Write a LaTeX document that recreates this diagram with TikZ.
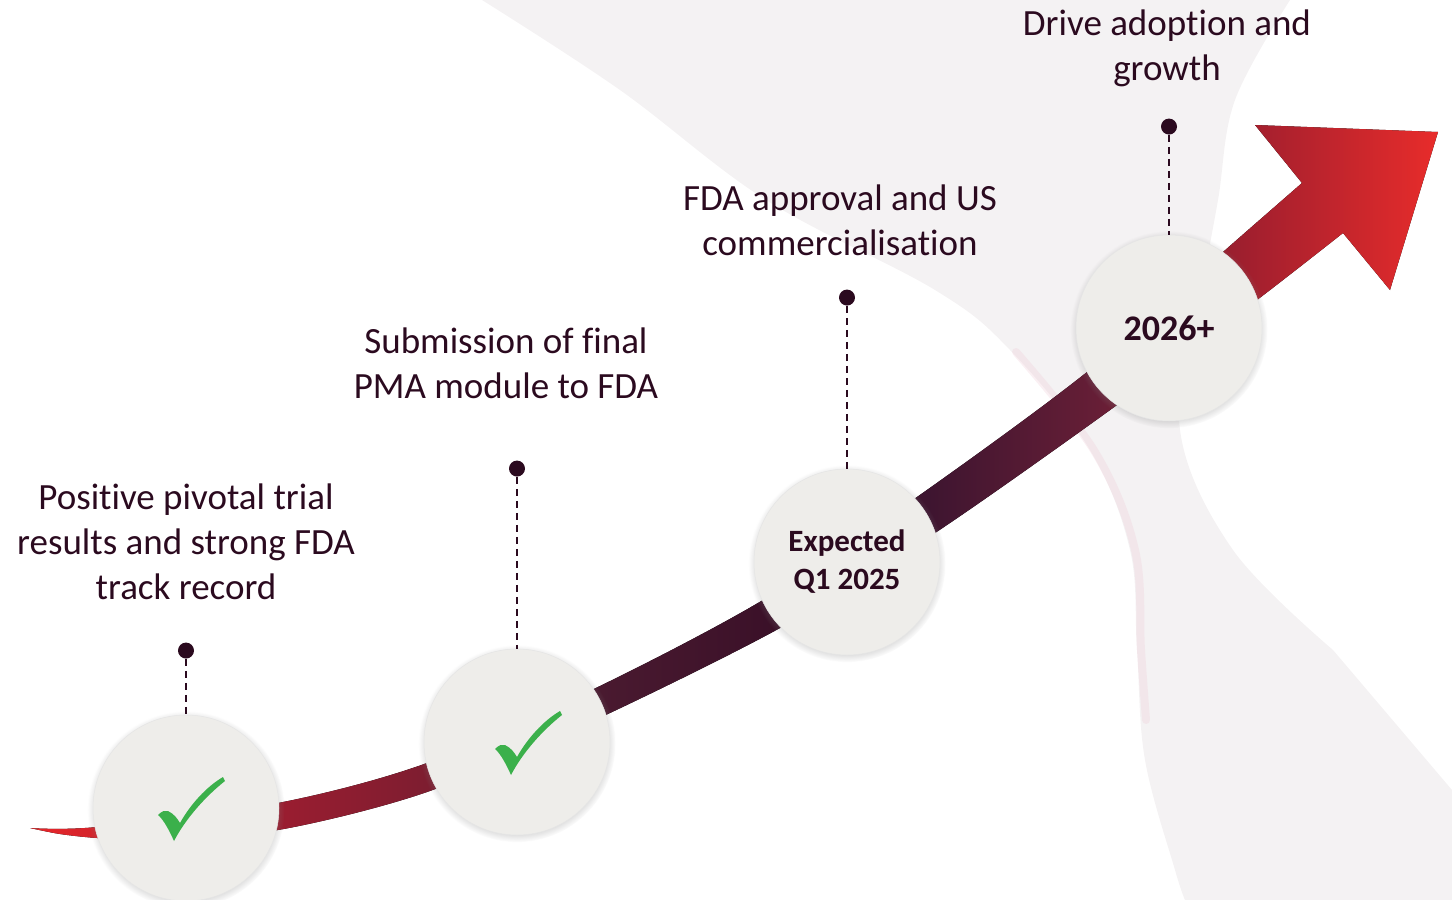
\documentclass[tikz,border=0pt]{standalone}
\usepackage{fontspec}
\setmainfont{Carlito}[Ligatures=NoCommon]
\usetikzlibrary{positioning, shadows}

\definecolor{plum}{HTML}{2B0A1F}
\definecolor{disc}{HTML}{EEEDEA}
\definecolor{okgreen}{HTML}{3BB04B}
\definecolor{haze}{HTML}{F4F2F3}
\definecolor{hazepink}{HTML}{EFCCD7}
\definecolor{bandA}{HTML}{E8262A}
\definecolor{bandB}{HTML}{9A1D30}
\definecolor{bandC}{HTML}{7D1D30}
\definecolor{bandD}{HTML}{4A1A30}
\definecolor{bandE}{HTML}{3A1028}
\definecolor{bandF}{HTML}{3E1530}
\definecolor{bandG}{HTML}{661E36}
\definecolor{bandH}{HTML}{A21F2E}
\definecolor{bandI}{HTML}{E82C2B}

% red -> plum -> red along the arrow
\pgfdeclarehorizontalshading{bandshade}{100bp}{color(0bp)=(bandA); color(25bp)=(bandA);
  color(33.9bp)=(bandB); color(39.2bp)=(bandC); color(45.2bp)=(bandD);
  color(51.6bp)=(bandE); color(56.9bp)=(bandF); color(62.9bp)=(bandG);
  color(68.3bp)=(bandH); color(75bp)=(bandI); color(100bp)=(bandI)}

\tikzset{
  greentick/.pic={
    \fill[okgreen] (-28,7) .. controls (-24,3) and (-21,2) .. (-18,3)
      .. controls (-12,6) and (-9,10) .. (-6,15)
      .. controls (4,-3) and (20,-21) .. (37,-31) -- (39,-27)
      .. controls (20,-12) and (0,10) .. (-12,33)
      .. controls (-16,24) and (-22,12) .. (-28,7) -- cycle;
  }
}

\begin{document}
\begin{tikzpicture}[x=1pt, y=-1pt,
    milestone/.style={circle, fill=disc, draw=black!10, line width=0.5pt,
      minimum size=186pt, inner sep=0pt, text=plum, align=center,
      font=\bfseries\fontsize{31}{38}\selectfont,
      circular drop shadow={shadow xshift=0pt, shadow yshift=-1.5pt,
        shadow scale=1.06, opacity=0.45}},
    stud/.style={circle, fill=plum, minimum size=16pt, inner sep=0pt},
    blurb/.style={text=plum, font=\fontsize{37}{45}\selectfont,
      align=center, inner sep=0pt},
    leader/.style={draw=plum, line width=2.6pt, dash pattern=on 7pt off 5pt}]
    \useasboundingbox (0,0) rectangle (1452,900);

    % dotted swoosh behind everything
    \fill[haze] plot[smooth, tension=0.6] coordinates {(482,0) (620,90) (766,200)
        (935,290) (1010,350) (1090,450) (1130,550) (1137,650) (1145,760)
        (1175,870) (1185,900)}
      -- (1452,900) -- (1452,790)
      -- plot[smooth, tension=0.6] coordinates {(1333,650) (1233,550) (1180,430)
        (1200,300) (1218,200) (1235,100) (1290,0)} -- cycle;
    \draw[hazepink, line width=8pt, opacity=0.3, line cap=round] plot[smooth, tension=0.6]
      coordinates {(1016,352) (1095,452) (1135,550) (1141,650) (1146,720)};

    % the rising arrow
    \fill[shading=bandshade] plot[smooth, tension=0.5] coordinates {(30,828)
        (97,827) (278,803) (427,763) (600,686) (763,600) (917,497)
        (1087,372) (1223,252) (1302,183)}
      -- (1255,125) -- (1438,132) -- (1390,290)
      -- plot[smooth, tension=0.5] coordinates {(1343,233) (1257,300)
        (1117,405) (935,533) (780,628) (595,720) (427,792) (278,830)
        (150,840) (97,838) (60,834) (30,828)} -- cycle;

    \node[milestone] (m1) at (186,808) {};
    \node[milestone] (m2) at (517,742) {};
    \node[milestone] (m3) at (847,562) {Expected\\Q1 2025};
    \node[milestone, font=\bfseries\fontsize{36}{40}\selectfont] (m4) at (1169,328) {2026+};
    \pic at (m1) {greentick};
    \pic[shift={(6,0)}] at (m2) {greentick};

    \node[stud, above=56pt of m1] (d1) {};
    \node[stud, above=172pt of m2] (d2) {};
    \node[stud, above=163pt of m3] (d3) {};
    \node[stud, above=100pt of m4] (d4) {};
    \foreach \i in {1,...,4}
      \draw[leader] (d\i) -- (m\i);

    \node[blurb, above=42pt of d1] (t1) {Positive pivotal trial\\results and strong FDA\\track record};
    \node[blurb, above=61pt of d2, xshift=-11pt] (t2) {Submission of final\\PMA module to FDA};
    \node[blurb, above=33pt of d3, xshift=-7pt] (t3) {FDA approval and US\\commercialisation};
    \node[blurb, above=31pt of d4, xshift=-2pt] (t4) {Drive adoption and\\growth};
\end{tikzpicture}
\end{document}
